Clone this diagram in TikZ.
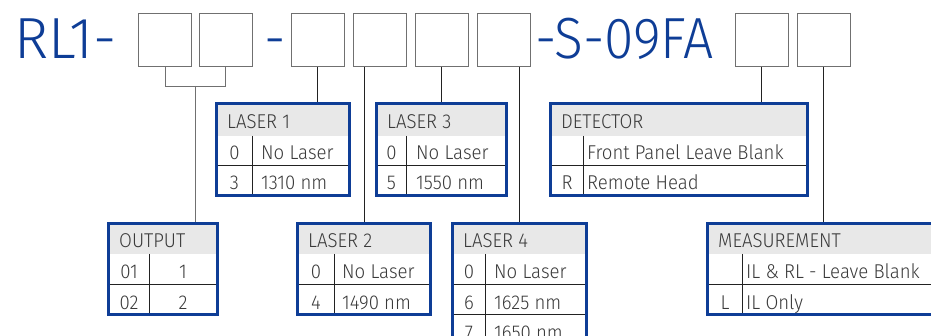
\documentclass[tikz,border=0pt]{standalone}
\usepackage{fontspec}
\setmainfont{Fira Sans Light}
\newfontfamily\titlefont{Fira Sans Light}[FakeStretch=0.92]
\newfontfamily\tabfont{Fira Sans Light}[FakeStretch=0.93]
\usepackage{xcolor}
\usepackage{tikz}
\usetikzlibrary{positioning}
\definecolor{rlblue}{HTML}{0E3D96}
\definecolor{hdrgray}{HTML}{E8E8E8}
\definecolor{boxgray}{HTML}{707070}
\definecolor{rulegray}{HTML}{222222}
\definecolor{txtgray}{HTML}{3A3A3A}
\tikzset{
  keybox/.style={draw=boxgray, line width=1pt, minimum width=53, minimum height=53, inner sep=0pt},
  title/.style={text=rlblue, font=\titlefont\fontsize{58}{58}\selectfont, inner sep=0pt, anchor=base west},
  tabframe/.style={inner sep=0pt},
  tabborder/.style={draw=rlblue, line width=2.8pt},
  tabrule/.style={draw=rulegray, line width=0.9pt},
  lead/.style={draw=rulegray, line width=0.9pt},
  bracket/.style={draw=boxgray, line width=1pt},
  hdr/.style={font=\tabfont\fontsize{20}{20}\selectfont, text=txtgray, anchor=base west, inner sep=0pt},
  cell/.style={font=\tabfont\fontsize{20}{20}\selectfont, text=txtgray, anchor=base west, inner sep=0pt},
  code/.style={font=\tabfont\fontsize{20}{20}\selectfont, text=txtgray, anchor=base, inner sep=0pt}
}

\begin{document}
\begin{tikzpicture}[x=1pt,y=-1pt,line cap=butt,line join=miter]
    \useasboundingbox (0,0) rectangle (931,336);
    \clip (0,0) rectangle (931,336);
    % part number
    \node[title, font=\fontsize{58}{58}\selectfont] (pre) at (14,59) {RL1-};
    \node[title] (mid) at (264,59) {-};
    \node[title] (suf) at (535,59) {-S-09FA};
    \node[keybox] (b1) at (165,40.5) {};
    \node[keybox] (b2) at (225.5,40.5) {};
    \node[keybox] (b3) at (317.5,40.5) {};
    \node[keybox] (b4) at (379.5,40.5) {};
    \node[keybox] (b5) at (441.5,40.5) {};
    \node[keybox] (b6) at (503.5,40.5) {};
    \node[keybox] (b7) at (761.5,40.5) {};
    \node[keybox] (b8) at (823.5,40.5) {};
    % tables
    \node[tabframe, minimum width=132, minimum height=91] (l1) at (283,149.5) {};
    \node[tabframe, minimum width=129, minimum height=91] (l3) at (441.5,149.5) {};
    \node[tabframe, minimum width=256, minimum height=91] (det) at (679,149.5) {};
    \node[tabframe, minimum width=108, minimum height=90] (out) at (163,269) {};
    \node[tabframe, minimum width=132, minimum height=90] (l2) at (364,269) {};
    \node[tabframe, minimum width=133, minimum height=121] (l4) at (519.5,284.5) {};
    \node[tabframe, minimum width=230, minimum height=90] (meas) at (823,269) {};
    % leaders
    \draw[bracket] (b1.south) -- ++(0,19) -| (b2.south);
    \coordinate (brk) at (195.5,86);
    \draw[bracket] (brk) -- (brk |- out.north);
    \draw[lead] (b3.south) -- (b3.south |- l1.north);
    \draw[lead] (b4.south -| l2.north) -- (l2.north);
    \draw[lead] (b5.south) -- (l3.north);
    \draw[lead] (b6.south -| l4.north) -- (l4.north);
    \draw[lead] (b7.south) -- (b7.south |- det.north);
    \draw[lead] (b8.south) -- (b8.south |- meas.north);
    % LASER 1
    \fill[hdrgray] (217,104) rectangle (349,136);
    \draw[tabrule] (217,165.5) -- (349,165.5);
    \draw[tabrule] (252,136) -- (252,195);
    \draw[tabborder] (l1.north west) rectangle (l1.south east);
    \node[hdr] (l1h) at (227,129) {LASER 1};
    \node[code] (l1a) at (234.5,160) {0};
    \node[cell] (l1b) at (261,160) {No Laser};
    \node[code] (l1c) at (234.5,190) {3};
    \node[cell] (l1d) at (261,190) {1310 nm};
    % LASER 3
    \fill[hdrgray] (377,104) rectangle (506,136);
    \draw[tabrule] (377,165.5) -- (506,165.5);
    \draw[tabrule] (406,136) -- (406,195);
    \draw[tabborder] (l3.north west) rectangle (l3.south east);
    \node[hdr] (l3h) at (387,129) {LASER 3};
    \node[code] (l3a) at (391.5,160) {0};
    \node[cell] (l3b) at (416,160) {No Laser};
    \node[code] (l3c) at (391.5,190) {5};
    \node[cell] (l3d) at (416,190) {1550 nm};
    % DETECTOR
    \fill[hdrgray] (551,104) rectangle (807,136);
    \draw[tabrule] (551,165.5) -- (807,165.5);
    \draw[tabrule] (583,136) -- (583,195);
    \draw[tabborder] (det.north west) rectangle (det.south east);
    \node[hdr] (deth) at (561,129) {DETECTOR};
    \node[cell] (detb) at (587,160) {Front Panel Leave Blank};
    \node[code] (detc) at (567,190) {R};
    \node[cell] (detd) at (587,190) {Remote Head};
    % OUTPUT
    \fill[hdrgray] (109,224) rectangle (217,254);
    \draw[tabrule] (109,284) -- (217,284);
    \draw[tabrule] (149,254) -- (149,314);
    \draw[tabborder] (out.north west) rectangle (out.south east);
    \node[hdr] (outh) at (119,248) {OUTPUT};
    \node[code] (outa) at (129,279) {01};
    \node[code] (outb) at (183,279) {1};
    \node[code] (outc) at (129,309) {02};
    \node[code] (outd) at (183,309) {2};
    % LASER 2
    \fill[hdrgray] (298,224) rectangle (430,254);
    \draw[tabrule] (298,284) -- (430,284);
    \draw[tabrule] (334,254) -- (334,314);
    \draw[tabborder] (l2.north west) rectangle (l2.south east);
    \node[hdr] (l2h) at (308,248) {LASER 2};
    \node[code] (l2a) at (316,279) {0};
    \node[cell] (l2b) at (342,279) {No Laser};
    \node[code] (l2c) at (316,309) {4};
    \node[cell] (l2d) at (342,309) {1490 nm};
    % LASER 4
    \fill[hdrgray] (453,224) rectangle (586,254);
    \draw[tabrule] (453,284) -- (586,284);
    \draw[tabrule] (453,314.5) -- (586,314.5);
    \draw[tabrule] (485,254) -- (485,345);
    \draw[tabborder] (l4.north west) rectangle (l4.south east);
    \node[hdr] (l4h) at (463,248) {LASER 4};
    \node[code] (l4a) at (469,279) {0};
    \node[cell] (l4b) at (494,279) {No Laser};
    \node[code] (l4c) at (469,309) {6};
    \node[cell] (l4d) at (494,309) {1625 nm};
    \node[code] (l4e) at (469,340) {7};
    \node[cell] (l4f) at (494,340) {1650 nm};
    % MEASUREMENT
    \fill[hdrgray] (708,224) rectangle (938,254);
    \draw[tabrule] (708,284) -- (938,284);
    \draw[tabrule] (742,254) -- (742,314);
    \draw[tabborder] (meas.north west) rectangle (meas.south east);
    \node[hdr] (meash) at (718,248) {MEASUREMENT};
    \node[cell] (measb) at (746,279) {IL \& RL - Leave Blank};
    \node[code] (measc) at (725,309) {L};
    \node[cell] (measd) at (746,309) {IL Only};
\end{tikzpicture}
\end{document}
